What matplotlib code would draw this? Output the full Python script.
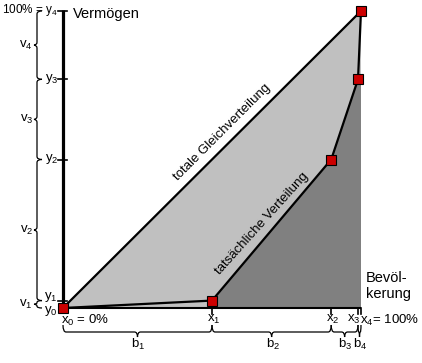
import numpy as np
import matplotlib
matplotlib.use("Agg")
import matplotlib.pyplot as plt
from matplotlib.path import Path
from matplotlib.patches import PathPatch, Polygon

plt.rcParams['font.family'] = ['Liberation Sans', 'DejaVu Sans']
plt.rcParams['mathtext.default'] = 'regular'

# Lorenz curve points (share of population / share of wealth, in %)
pop_share = [0, 50, 90, 99, 100]
wealth_share = [0, 2.5, 50, 77, 100]

x_labels = ["x$_0$ = 0%", "x$_1$", "x$_2$", "x$_3$", "x$_4$= 100%"]
y_labels = ["y$_0$", "y$_1$", "y$_2$", "y$_3$", "100% = y$_4$"]
v_labels = ["v$_1$", "v$_2$", "v$_3$", "v$_4$"]
b_labels = ["b$_1$", "b$_2$", "b$_3$", "b$_4$"]

# pixel scale of the picture (data units -> pixels)
SX, SY = 2.98, 2.97


def dx(p):
    return p / SX


def dy(p):
    return p / SY


def brace_v(ax, y_lo, y_hi, x_line, w_end, w_tip):
    ym = (y_lo + y_hi) / 2
    r = min(dy(3), (y_hi - y_lo) / 4)
    verts = [(x_line + w_end, y_hi), (x_line, y_hi), (x_line, y_hi - r),
             (x_line, ym + r),
             (x_line, ym), (x_line - w_tip, ym),
             (x_line, ym), (x_line, ym - r),
             (x_line, y_lo + r),
             (x_line, y_lo), (x_line + w_end, y_lo)]
    codes = [Path.MOVETO, Path.CURVE3, Path.CURVE3, Path.LINETO,
             Path.CURVE3, Path.CURVE3, Path.CURVE3, Path.CURVE3,
             Path.LINETO, Path.CURVE3, Path.CURVE3]
    ax.add_patch(PathPatch(Path(verts, codes), fill=False, lw=0.9, color='black'))


def brace_h(ax, x_lo, x_hi, y_line, h_end, h_tip):
    xm = (x_lo + x_hi) / 2
    r = min(dx(3), (x_hi - x_lo) / 4)
    verts = [(x_lo, y_line + h_end), (x_lo, y_line), (x_lo + r, y_line),
             (xm - r, y_line),
             (xm, y_line), (xm, y_line - h_tip),
             (xm, y_line), (xm + r, y_line),
             (x_hi - r, y_line),
             (x_hi, y_line), (x_hi, y_line + h_end)]
    codes = [Path.MOVETO, Path.CURVE3, Path.CURVE3, Path.LINETO,
             Path.CURVE3, Path.CURVE3, Path.CURVE3, Path.CURVE3,
             Path.LINETO, Path.CURVE3, Path.CURVE3]
    ax.add_patch(PathPatch(Path(verts, codes), fill=False, lw=0.9, color='black'))


fig = plt.figure(figsize=(4.22, 3.63), dpi=100)
ax = fig.add_axes([0, 0, 1, 1])
ax.set_xlim(-63 / SX, (422 - 63) / SX)
ax.set_ylim(-(363 - 308) / SY, 308 / SY)
ax.axis('off')

xmax, ymax = pop_share[-1], wealth_share[-1]

# areas
ax.add_patch(Polygon([(0, 0), (xmax, ymax), (xmax, 0)], closed=True,
                     facecolor='#c0c0c0', edgecolor='none'))
dark = [(pop_share[1], 0)] + list(zip(pop_share[1:4], wealth_share[1:4])) + \
       [(xmax, wealth_share[3]), (xmax, 0)]
ax.add_patch(Polygon(dark, closed=True, facecolor='#808080', edgecolor='none'))

# axes
ax.plot([0, 0], [0, ymax + dy(1)], color='black', lw=2.3, solid_capstyle='butt')
ax.plot([0, xmax], [0, 0], color='black', lw=1.5, solid_capstyle='butt')
for yv in wealth_share[1:]:
    ax.plot([-dx(5), dx(4)], [yv, yv], color='black', lw=1.2)
for xv in pop_share[1:]:
    ax.plot([xv, xv], [0, -dy(6)], color='black', lw=1.2)

# equal distribution and actual curve
ax.plot([0, xmax], [0, ymax], color='black', lw=1.6)
ax.plot(pop_share, wealth_share, color='black', lw=1.6)
ax.plot(pop_share, wealth_share, ls='none', marker='s', markersize=6.5,
        markerfacecolor='#cc0000', markeredgecolor='black', markeredgewidth=0.8)

# braces
for i in range(4):
    brace_v(ax, wealth_share[i], wealth_share[i + 1], -dx(26), dx(5), dx(3))
    brace_h(ax, pop_share[i], pop_share[i + 1], -dy(24), dy(7), dy(5))

fs = 9.5
# y labels
ax.text(-dx(5), ymax + dy(1), y_labels[4], ha='right', va='center', fontsize=8.5)
for i in (3, 2):
    ax.text(-dx(5), wealth_share[i], y_labels[i], ha='right', va='center', fontsize=fs)
ax.text(-dx(5), wealth_share[1] + dy(4), y_labels[1], ha='right', va='center', fontsize=fs)
ax.text(-dx(5), -dy(3), y_labels[0], ha='right', va='center', fontsize=fs)

# v labels
for i in range(4):
    ym = (wealth_share[i] + wealth_share[i + 1]) / 2
    ax.text(-dx(30), ym, v_labels[i], ha='right', va='center', fontsize=fs)

# x labels
ax.text(-dx(2), -dy(5), x_labels[0], ha='left', va='top', fontsize=fs)
for i in (1, 2):
    ax.text(pop_share[i] + dx(2), -dy(5), x_labels[i], ha='center', va='top', fontsize=fs)
ax.text(pop_share[4] - dx(1), -dy(5), x_labels[3], ha='right', va='top', fontsize=fs)
ax.text(pop_share[4] - dx(1), -dy(5), x_labels[4], ha='left', va='top', fontsize=fs)

# b labels
for i in range(4):
    xm = (pop_share[i] + pop_share[i + 1]) / 2
    ax.text(xm + dx(1), -dy(36), b_labels[i], ha='center', va='center', fontsize=fs)

# axis titles
ax.text(dx(10), ymax + dy(4), "Vermögen", ha='left', va='top', fontsize=10.5)
ax.text(xmax + dx(5), dy(37), "Bevöl-\nkerung", ha='left', va='top',
        fontsize=10.5, linespacing=1.15)

# curve names
ax.text(dx(222 - 63), dy(308 - 132), "totale Gleichverteilung", rotation=45,
        ha='center', va='center', rotation_mode='anchor', fontsize=9.5)
ax.text(dx(262 - 63), dy(308 - 224), "tatsächliche Verteilung", rotation=48,
        ha='center', va='center', rotation_mode='anchor', fontsize=9.5)

fig.savefig("out.png", dpi=100)
